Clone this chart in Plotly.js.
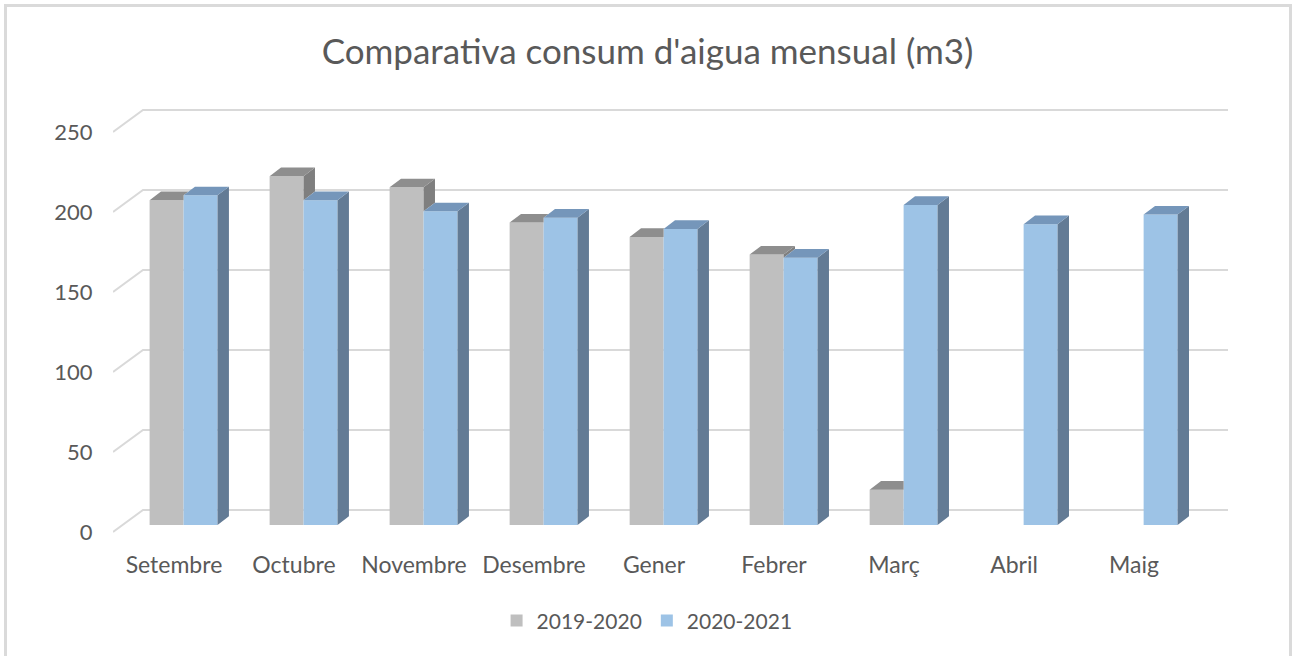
<!DOCTYPE html>
<html>
<head>
<meta charset="utf-8">
<script src="https://cdn.plot.ly/plotly-3.0.1.min.js"></script>
<style>
  html, body { margin: 0; padding: 0; background: #ffffff; }
  #wrap { position: relative; width: 1295px; height: 656px; overflow: hidden; }
  #chart { width: 1295px; height: 656px; }
  #frame { position: absolute; left: 4px; top: 4px; width: 1282px; height: 680px;
           border: 3px solid #dadada; pointer-events: none; }
</style>
</head>
<body>
<div id="wrap">
  <div id="chart"></div>
  <div id="frame"></div>
</div>
<script>
// ---- data ----
const months = ['Setembre', 'Octubre', 'Novembre', 'Desembre', 'Gener', 'Febrer', 'Març', 'Abril', 'Maig'];
const series2019 = [203, 218, 211, 189, 180, 169, 22, null, null];
const series2020 = [206, 203, 196, 192, 185, 167, 200, 188, 194];
const seriesNames = ['2019-2020', '2020-2021'];
const yTicks = [0, 50, 100, 150, 200, 250];

// ---- pseudo-3D geometry (styling) ----
const BASE = 4.4;      // bars sit a little behind the front plane
const SHIFT = 0.08;    // horizontal shift of the bar row
const W = 0.283;       // width of one bar
const DX = 0.095, DY = 5.4;   // bar depth
const WX = 0.25, WY = 13.75;  // back wall depth
const XMIN = -0.508, XMAX = 8.783;

const colGrayFront = '#bfbfbf', colGrayTop = '#8e8e8e', colGraySide = '#7f7f7f';
const colBlueFront = '#9dc3e6', colBlueTop = '#7596ba', colBlueSide = '#637b95';

const idx = months.map((m, i) => i);
const xs = idx.map(i => i + SHIFT);

// faces
const grayTop = {x: [], y: []}, graySide = {x: [], y: []};
const blueTop = {x: [], y: []}, blueSide = {x: [], y: []};
function poly(obj, pts) {
  pts.forEach(p => { obj.x.push(p[0]); obj.y.push(p[1]); });
  obj.x.push(pts[0][0]); obj.y.push(pts[0][1]);
  obj.x.push(null); obj.y.push(null);
}
idx.forEach(i => {
  const xc = xs[i];
  const g = series2019[i], b = series2020[i];
  const bT = b == null ? BASE : BASE + b;
  if (b != null) {
    poly(blueSide, [[xc + W, BASE], [xc + W + DX, BASE + DY], [xc + W + DX, bT + DY], [xc + W, bT]]);
    poly(blueTop, [[xc, bT], [xc + DX, bT + DY], [xc + W + DX, bT + DY], [xc + W, bT]]);
  }
  if (g != null) {
    const gT = BASE + g;
    const xl = xc - W;
    if (gT > bT) {
      poly(grayTop, [[xl, gT], [xl + DX, gT + DY], [xc + DX, gT + DY], [xc, gT]]);
      poly(graySide, [[xc, bT], [xc + DX, bT + DY], [xc + DX, gT + DY], [xc, gT]]);
    } else {
      const f = Math.max(0, (gT + DY - bT) / DY);
      poly(grayTop, [[xl, gT], [xl + DX, gT + DY], [xc + DX * f, gT + DY], [xc, Math.min(bT, gT + DY)], [xc, gT]]);
    }
  }
});

function face(obj, color) {
  return {type: 'scatter', mode: 'lines', x: obj.x, y: obj.y, fill: 'toself',
          fillcolor: color, line: {width: 0, color: color}, showlegend: false,
          hoverinfo: 'skip', connectgaps: false};
}

const data = [
  {type: 'bar', name: seriesNames[0], x: xs, y: series2019, base: BASE,
   offset: -W, width: W, marker: {color: colGrayFront, line: {width: 0}}, hoverinfo: 'skip'},
  {type: 'bar', name: seriesNames[1], x: xs, y: series2020, base: BASE,
   offset: 0, width: W, marker: {color: colBlueFront, line: {width: 0}}, hoverinfo: 'skip'},
  face(graySide, colGraySide),
  face(grayTop, colGrayTop),
  face(blueSide, colBlueSide),
  face(blueTop, colBlueTop)
];

// back-wall gridlines
const shapes = yTicks.map(v => ({
  type: 'path', xref: 'x', yref: 'y', layer: 'below',
  path: 'M ' + XMIN + ',' + v + ' L ' + (XMIN + WX) + ',' + (v + WY) + ' L ' + XMAX + ',' + (v + WY),
  line: {color: '#d9d9d9', width: 2}
}));

const textColor = '#595959';
const layout = {
  width: 1295, height: 656,
  paper_bgcolor: '#ffffff', plot_bgcolor: 'rgba(0,0,0,0)',
  margin: {l: 113, r: 67, t: 100, b: 116, pad: 0},
  font: {family: 'Lato, "Open Sans", sans-serif', color: textColor, size: 22},
  title: {text: "Comparativa consum d'aigua mensual (m3)", x: 0.5, xref: 'container',
          xanchor: 'center', y: 1 - 52 / 656, yref: 'container', yanchor: 'middle',
          font: {size: 35, color: textColor, family: 'Lato, "Open Sans", sans-serif'}},
  barmode: 'overlay',
  showlegend: true,
  legend: {orientation: 'h', x: 0.479, xanchor: 'center', y: -0.184, yanchor: 'middle',
           font: {size: 21, color: textColor}, traceorder: 'normal', itemwidth: 30},
  xaxis: {range: [XMIN, XMAX], tickmode: 'array', tickvals: idx, ticktext: months,
          showgrid: false, zeroline: false, showline: false, ticks: 'outside',
          ticklen: 4, tickcolor: 'rgba(0,0,0,0)', tickfont: {size: 23, color: textColor},
          fixedrange: true},
  yaxis: {range: [-5, 270], tickmode: 'array', tickvals: yTicks, ticktext: yTicks.map(String),
          showgrid: false, zeroline: false, showline: false, ticks: 'outside',
          ticklen: 15, tickcolor: 'rgba(0,0,0,0)', tickfont: {size: 22, color: textColor},
          fixedrange: true},
  shapes: shapes,
  hovermode: false
};

Plotly.newPlot('chart', data, layout, {displayModeBar: false, staticPlot: true});
</script>
</body>
</html>
